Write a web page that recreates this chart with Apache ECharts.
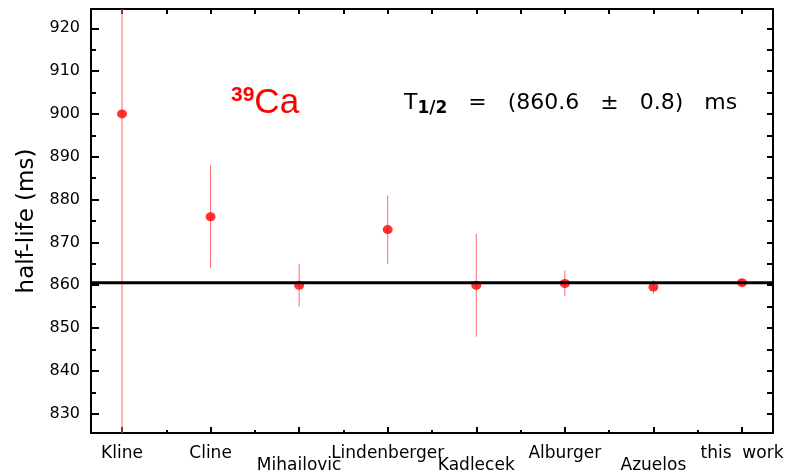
<!DOCTYPE html>
<html>
<head>
<meta charset="utf-8">
<script src="https://cdn.jsdelivr.net/npm/echarts@6/dist/echarts.min.js"></script>
<style>
  html, body { margin: 0; padding: 0; background: #fff; }
  #chart { width: 804px; height: 473px; }
</style>
</head>
<body>
<div id="chart"></div>
<script>
// measurements of the 39Ca half-life
const labels = ['Kline', 'Cline', 'Mihailovic', 'Lindenberger', 'Kadlecek', 'Alburger', 'Azuelos', 'this  work']
const lowLabels = ['Mihailovic', 'Kadlecek', 'Azuelos']
const halfLife = [900, 876, 860, 873, 860, 860.4, 859.6, 860.6]
const halfLifeErr = [80, 12, 5, 8, 12, 3, 1.6, 0.8]
const adopted = 860.6

const yMajor = [830, 840, 850, 860, 870, 880, 890, 900, 910, 920]
const yMinor = [835, 845, 855, 865, 875, 885, 895, 905, 915]
const xMajor = [1, 2, 3, 4, 5, 6, 7, 8]
const xMinor = [1.5, 2.5, 3.5, 4.5, 5.5, 6.5, 7.5]

const font = 'DejaVu Sans, sans-serif'
const black = '#000'

const points = halfLife.map((v, i) => [i + 1, v, halfLifeErr[i]])

const chart = echarts.init(document.getElementById('chart'), null, { renderer: 'canvas' })

const xBase = { type: 'value', min: 0.65, max: 8.35, splitLine: { show: false }, gridIndex: 0 }
const yBase = { type: 'value', min: 825.5, max: 924.5, splitLine: { show: false } }

chart.setOption({
  animation: false,
  grid: { left: 91, right: 31, top: 9, bottom: 40, containLabel: false, outerBoundsMode: 'none' },
  xAxis: [
    {
      ...xBase,
      position: 'bottom',
      axisLine: { lineStyle: { color: black, width: 2 } },
      axisTick: { inside: true, length: 6, customValues: xMajor, lineStyle: { color: black, width: 2 } },
      axisLabel: {
        customValues: xMajor,
        margin: 12,
        color: black,
        fontFamily: font,
        fontSize: 17,
        formatter: (v) => {
          const name = labels[Math.round(v) - 1]
          return lowLabels.includes(name) ? '{lo|' + name + '}' : name
        },
        rich: { lo: { padding: [12, 0, 0, 0], fontFamily: font, fontSize: 17, color: black } }
      }
    },
    {
      ...xBase,
      position: 'bottom',
      axisLine: { show: false },
      axisTick: { inside: true, length: 3, customValues: xMinor, lineStyle: { color: black, width: 2 } },
      axisLabel: { show: false }
    },
    {
      ...xBase,
      position: 'top',
      axisLine: { lineStyle: { color: black, width: 2 } },
      axisTick: { inside: true, length: 5, customValues: xMajor.concat(xMinor), lineStyle: { color: black, width: 2 } },
      axisLabel: { show: false }
    }
  ],
  yAxis: [
    {
      ...yBase,
      position: 'left',
      name: 'half-life (ms)',
      nameLocation: 'middle',
      nameGap: 44,
      nameTextStyle: { color: black, fontFamily: font, fontSize: 23 },
      axisLine: { lineStyle: { color: black, width: 2 } },
      axisTick: { inside: true, length: 8, customValues: yMajor, lineStyle: { color: black, width: 2 } },
      axisLabel: { customValues: yMajor, margin: 11, color: black, fontFamily: font, fontSize: 16 }
    },
    {
      ...yBase,
      position: 'left',
      axisLine: { show: false },
      axisTick: { inside: true, length: 5, customValues: yMinor, lineStyle: { color: black, width: 2 } },
      axisLabel: { show: false }
    },
    {
      ...yBase,
      position: 'right',
      axisLine: { lineStyle: { color: black, width: 2 } },
      axisTick: { inside: true, length: 6, customValues: yMajor.concat(yMinor), lineStyle: { color: black, width: 2 } },
      axisLabel: { show: false }
    }
  ],
  series: [
    {
      type: 'custom',
      clip: true,
      data: points,
      renderItem: (params, api) => {
        const x = api.value(0), v = api.value(1), e = api.value(2)
        const top = api.coord([x, v + e])
        const bot = api.coord([x, v - e])
        return {
          type: 'line',
          shape: { x1: top[0], y1: top[1], x2: bot[0], y2: bot[1] },
          style: { stroke: '#ff6a6a', lineWidth: 1 }
        }
      },
      z: 2
    },
    {
      type: 'scatter',
      data: points,
      symbol: 'circle',
      symbolSize: [10, 9],
      itemStyle: { color: '#ff0000' },
      z: 3
    },
    {
      type: 'line',
      data: [[0.65, adopted], [8.35, adopted]],
      symbol: 'none',
      lineStyle: { color: black, width: 3 },
      z: 4
    }
  ],
  graphic: [
    {
      type: 'text',
      left: 231,
      top: 85,
      style: {
        rich: {
          sup: { fontFamily: 'Liberation Sans, Arial, sans-serif', fontSize: 21, fontWeight: 'bold', fill: '#ff0000', verticalAlign: 'top', padding: [0, 0, 15, 0] },
          el: { fontFamily: 'Liberation Sans, Arial, sans-serif', fontSize: 35, fill: '#ff0000' }
        },
        text: '{sup|39}{el|Ca}'
      }
    },
    {
      type: 'text',
      left: 404,
      top: 92,
      style: {
        rich: {
          t: { fontFamily: font, fontSize: 22, fill: black },
          sub: { fontFamily: font, fontSize: 17, fontWeight: 'bold', fill: black, padding: [12, 0, 0, 0] }
        },
        text: '{t|T}{sub|1/2}{t|   =   (860.6   ±   0.8)   ms}'
      }
    }
  ]
})
</script>
</body>
</html>
